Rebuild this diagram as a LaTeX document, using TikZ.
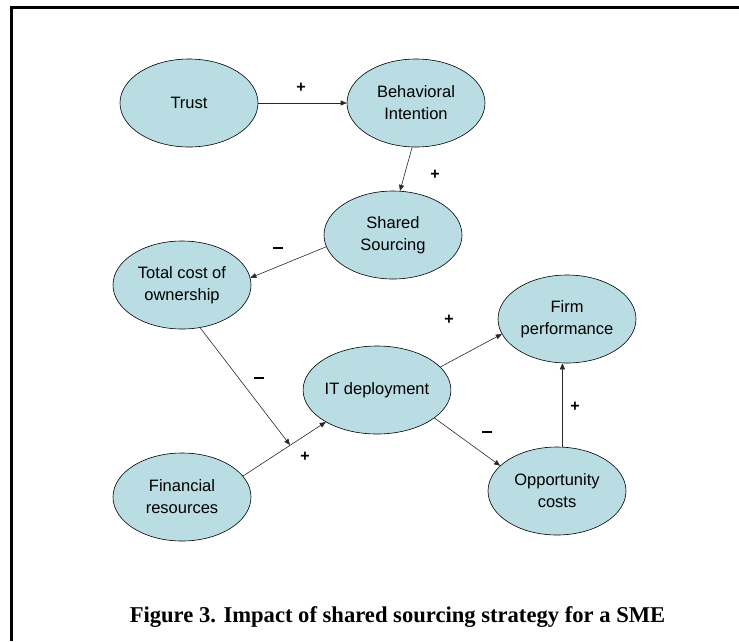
\documentclass[tikz,border=0pt]{standalone}
\usepackage{fontspec}
\setmainfont{Liberation Serif}
\newfontfamily\arialfont{Liberation Sans}
\usetikzlibrary{arrows.meta,shapes.geometric}
\definecolor{ellfill}{RGB}{185,221,227}
\definecolor{lnc}{RGB}{40,40,40}
\newcommand{\negsign}{\rule{10pt}{2pt}}
\begin{document}
\begin{tikzpicture}[x=1pt,y=-1pt,
  concept/.style={ellipse, draw=black, line width=0.6pt, fill=ellfill,
    minimum width=138pt, minimum height=88pt, inner sep=0pt,
    font=\arialfont\fontsize{16.5}{22}\selectfont, align=center},
  link/.style={draw=lnc, line width=0.6pt, -{Triangle[length=6pt,width=5pt]}},
  sign/.style={font=\arialfont\fontsize{16}{16}\selectfont\bfseries, inner sep=0pt}]
\useasboundingbox (0,0) rectangle (739,641);
\fill[white] (0,0) rectangle (739,641);
% frame
\draw[line width=3pt] (11,641) -- (11,7) -- (739,7);
% nodes
\node[concept] (trust) at (189,103) {Trust};
\node[concept] (bi) at (416,103) {Behavioral\\Intention};
\node[concept] (ss) at (393,235) {Shared\\Sourcing};
\node[concept] (tco) at (182,285) {Total cost of\\ownership};
\node[concept] (firm) at (567,319) {Firm\\performance};
\node[concept] (it) at (377,390) {IT deployment};
\node[concept] (fin) at (182,497) {Financial\\resources};
\node[concept] (opp) at (557,491) {Opportunity\\costs};
\coordinate (junc) at (290,445);
\coordinate (oppn) at (opp.83);
% connectors
\draw[link] (trust.east) -- (bi.west);
\draw[link] (bi.-95) -- (ss.81);
\draw[link] (ss.190) -- (tco.6);
\draw[link] (tco.-67) -- (junc);
\draw[link] (fin.19) -- (it.212);
\draw[link] (it.20) -- (firm.193);
\draw[link] (it.-26) -- (opp.156);
\draw[link] (oppn) -- (oppn |- firm.south);
% signs
\node[sign] (s1) at (301,88) {+};
\node[sign] (s2) at (435,175) {+};
\node[sign] (s3) at (278,248) {\negsign};
\node[sign] (s4) at (259,378) {\negsign};
\node[sign] (s5) at (305,457) {+};
\node[sign] (s6) at (449,320) {+};
\node[sign] (s7) at (487,432) {\negsign};
\node[sign] (s8) at (575,407) {+};
% caption
\node[font=\bfseries\fontsize{22.6}{26}\selectfont, anchor=base] (cap) at (397.5,622)
  {Figure 3. Impact of shared sourcing strategy for a SME};
\end{tikzpicture}
\end{document}
